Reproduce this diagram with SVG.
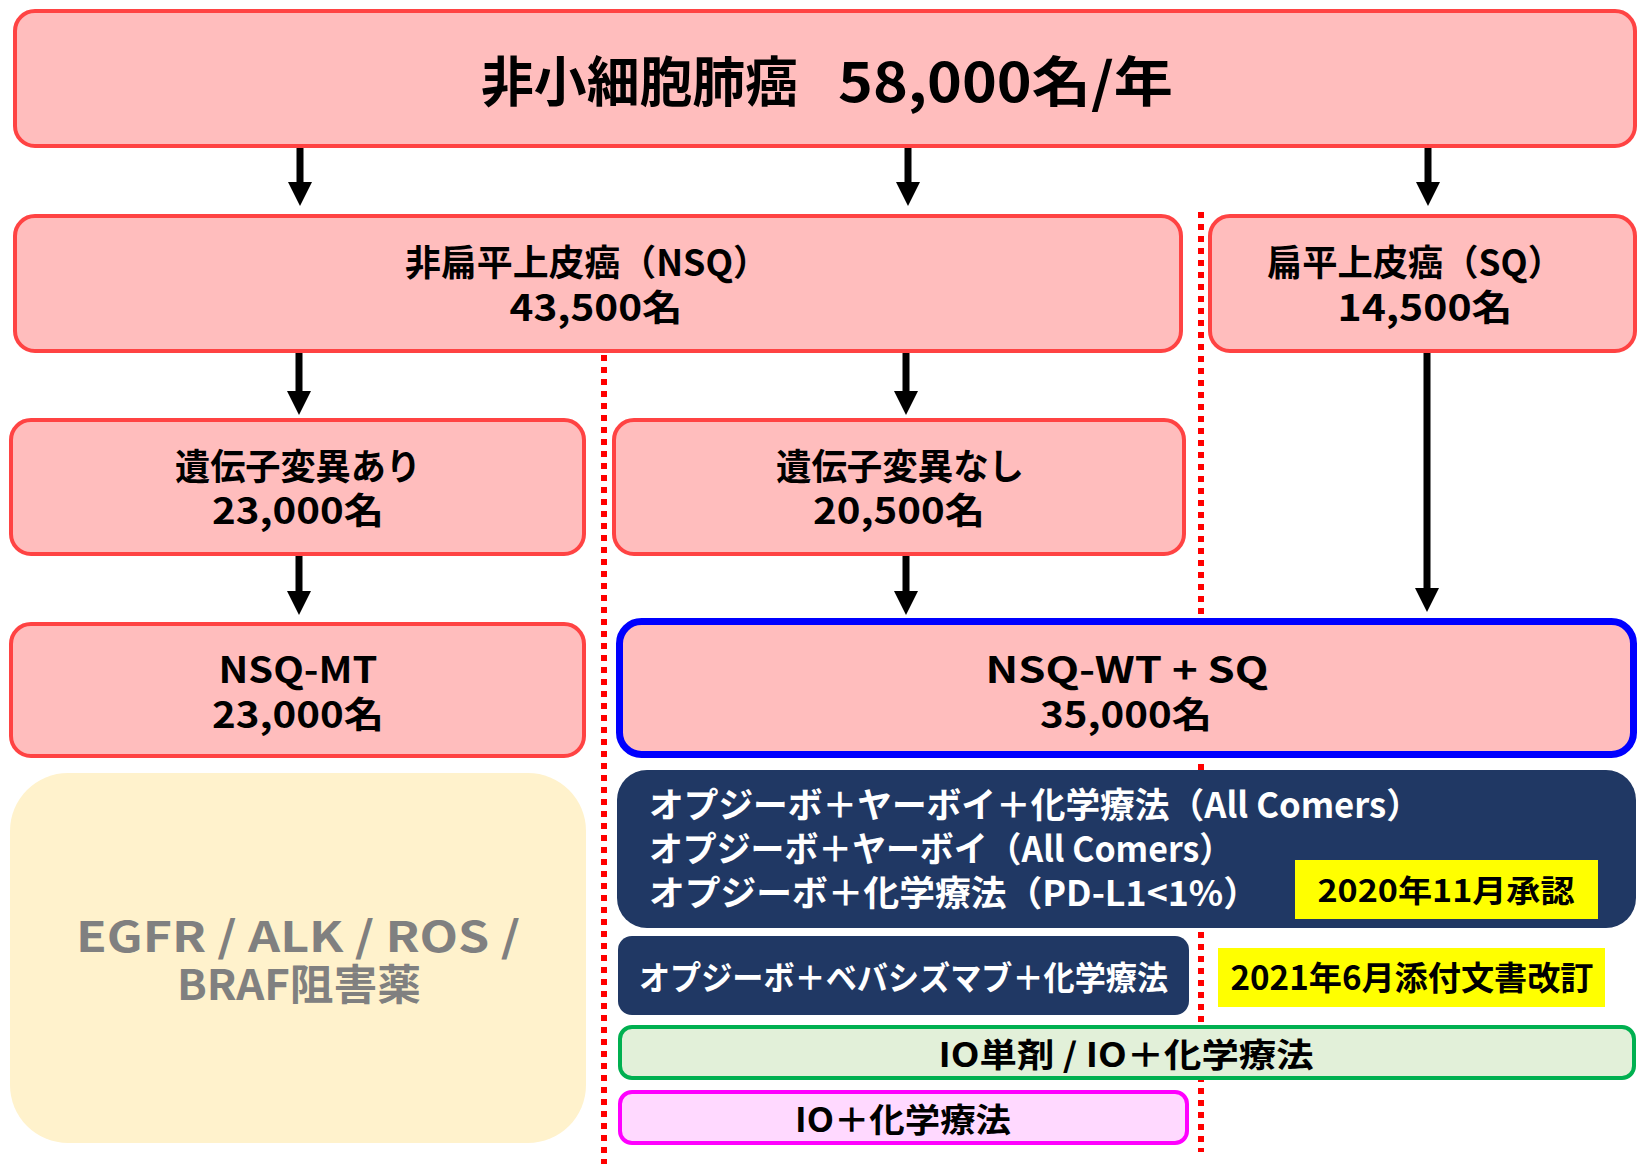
<svg xmlns="http://www.w3.org/2000/svg" width="1638" height="1164" viewBox="0 0 1638 1164">
<style>
  text { font-family: "Noto Sans CJK JP", "Noto Sans", sans-serif; font-weight: bold; }
  .pink { fill: #FFBDBD; stroke: #FF4343; stroke-width: 4; }
  .blue { fill: #FFBDBD; stroke: #0000FF; stroke-width: 7; }
  .navy { fill: #203864; }
  .yellow { fill: #FFFF00; }
  .cream { fill: #FFF2CC; }
  .green { fill: #E2F0D9; stroke: #00B050; stroke-width: 4; }
  .magenta { fill: #FFD9FF; stroke: #FF00FF; stroke-width: 4; }
  .t { fill: #000000; text-anchor: middle; }
  .w { fill: #FFFFFF; }
  .g { fill: #808080; text-anchor: middle; }
  .arrow { stroke: #000000; stroke-width: 7; fill: none; marker-end: url(#ah); }
  .div { stroke: #FF0000; stroke-width: 6; stroke-dasharray: 6 6; fill: none; }
</style>
<defs>
  <marker id="ah" markerUnits="userSpaceOnUse" markerWidth="24" markerHeight="24" refX="12" refY="12" orient="auto">
    <path d="M0,0 L24,12 L0,24 z" fill="#000000"/>
  </marker>
</defs>

<g id="dividers">
  <line class="div" x1="604" y1="355" x2="604" y2="1164"/>
  <line class="div" x1="1201" y1="212" x2="1201" y2="1152"/>
</g>

<g id="connectors">
  <line class="arrow" x1="300" y1="148" x2="300" y2="194"/>
  <line class="arrow" x1="908" y1="148" x2="908" y2="194"/>
  <line class="arrow" x1="1428" y1="148" x2="1428" y2="194"/>
  <line class="arrow" x1="299" y1="353" x2="299" y2="403"/>
  <line class="arrow" x1="906" y1="353" x2="906" y2="403"/>
  <line class="arrow" x1="299" y1="556" x2="299" y2="603"/>
  <line class="arrow" x1="906" y1="556" x2="906" y2="603"/>
  <line class="arrow" x1="1427" y1="353" x2="1427" y2="600"/>
</g>

<g id="node-nsclc">
  <rect class="pink" x="15" y="11" width="1620" height="135" rx="20"/>
  <text x="481" y="102" font-size="54"><tspan x="481" textLength="317" lengthAdjust="spacingAndGlyphs">非小細胞肺癌</tspan><tspan x="838" textLength="335" lengthAdjust="spacingAndGlyphs">58,000名/年</tspan></text>
</g>

<g id="node-nsq">
  <rect class="pink" x="15" y="216" width="1166" height="135" rx="20"/>
  <text class="t" x="587" y="276" font-size="36" textLength="364" lengthAdjust="spacingAndGlyphs">非扁平上皮癌（NSQ）</text>
  <text class="t" x="596" y="321" font-size="36" textLength="173" lengthAdjust="spacingAndGlyphs">43,500名</text>
</g>

<g id="node-sq">
  <rect class="pink" x="1210" y="216" width="425" height="135" rx="20"/>
  <text class="t" x="1415" y="276" font-size="36" textLength="296" lengthAdjust="spacingAndGlyphs">扁平上皮癌（SQ）</text>
  <text class="t" x="1425" y="321" font-size="36" textLength="175" lengthAdjust="spacingAndGlyphs">14,500名</text>
</g>

<g id="node-mut">
  <rect class="pink" x="11" y="420" width="573" height="134" rx="20"/>
  <text class="t" x="298" y="480" font-size="36" textLength="246" lengthAdjust="spacingAndGlyphs">遺伝子変異あり</text>
  <text class="t" x="298" y="524" font-size="36" textLength="172" lengthAdjust="spacingAndGlyphs">23,000名</text>
</g>

<g id="node-wt">
  <rect class="pink" x="614" y="420" width="570" height="134" rx="20"/>
  <text class="t" x="900" y="480" font-size="36" textLength="248" lengthAdjust="spacingAndGlyphs">遺伝子変異なし</text>
  <text class="t" x="899" y="524" font-size="36" textLength="172" lengthAdjust="spacingAndGlyphs">20,500名</text>
</g>

<g id="node-nsq-mt">
  <rect class="pink" x="11" y="624" width="573" height="132" rx="20"/>
  <text class="t" x="298" y="683" font-size="36" textLength="159" lengthAdjust="spacingAndGlyphs">NSQ-MT</text>
  <text class="t" x="298" y="728" font-size="36" textLength="172" lengthAdjust="spacingAndGlyphs">23,000名</text>
</g>

<g id="node-nsq-wt-sq">
  <rect class="blue" x="619.5" y="621.5" width="1014" height="133" rx="22"/>
  <text class="t" x="1127" y="683" font-size="36" textLength="283" lengthAdjust="spacingAndGlyphs">NSQ-WT + SQ</text>
  <text class="t" x="1126" y="728" font-size="36" textLength="172" lengthAdjust="spacingAndGlyphs">35,000名</text>
</g>

<g id="node-tki">
  <rect class="cream" x="10" y="773" width="576" height="370" rx="58"/>
  <text class="g" x="298" y="952" font-size="42" textLength="444" lengthAdjust="spacingAndGlyphs">EGFR / ALK / ROS /</text>
  <text class="g" x="299" y="1000" font-size="42" textLength="244" lengthAdjust="spacingAndGlyphs">BRAF阻害薬</text>
</g>

<g id="node-opdivo">
  <rect class="navy" x="617" y="770" width="1019" height="158" rx="30"/>
  <text class="w" x="649" y="818" font-size="35" textLength="772" lengthAdjust="spacingAndGlyphs">オプジーボ＋ヤーボイ＋化学療法（All Comers）</text>
  <text class="w" x="649" y="862" font-size="35" textLength="584" lengthAdjust="spacingAndGlyphs">オプジーボ＋ヤーボイ（All Comers）</text>
  <text class="w" x="649" y="906" font-size="35" textLength="610" lengthAdjust="spacingAndGlyphs">オプジーボ＋化学療法（PD-L1&lt;1%）</text>
</g>

<g id="node-approval-2020">
  <rect class="yellow" x="1295" y="860" width="303" height="59"/>
  <text class="t" x="1446" y="902" font-size="31" textLength="257" lengthAdjust="spacingAndGlyphs">2020年11月承認</text>
</g>

<g id="node-bev">
  <rect class="navy" x="618" y="936" width="571" height="79" rx="14"/>
  <text class="w" x="639" y="990" font-size="33" textLength="529" lengthAdjust="spacingAndGlyphs">オプジーボ＋ベバシズマブ＋化学療法</text>
</g>

<g id="node-revision-2021">
  <rect class="yellow" x="1218" y="948" width="387" height="59"/>
  <text class="t" x="1412" y="990" font-size="33" textLength="363" lengthAdjust="spacingAndGlyphs">2021年6月添付文書改訂</text>
</g>

<g id="node-io">
  <rect class="green" x="620" y="1027" width="1014" height="51" rx="12"/>
  <text class="t" x="1126" y="1067" font-size="33" textLength="375" lengthAdjust="spacingAndGlyphs">IO単剤 / IO＋化学療法</text>
</g>

<g id="node-io-chemo">
  <rect class="magenta" x="620" y="1092" width="567" height="51" rx="12"/>
  <text class="t" x="903" y="1132" font-size="33" textLength="216" lengthAdjust="spacingAndGlyphs">IO＋化学療法</text>
</g>
</svg>
